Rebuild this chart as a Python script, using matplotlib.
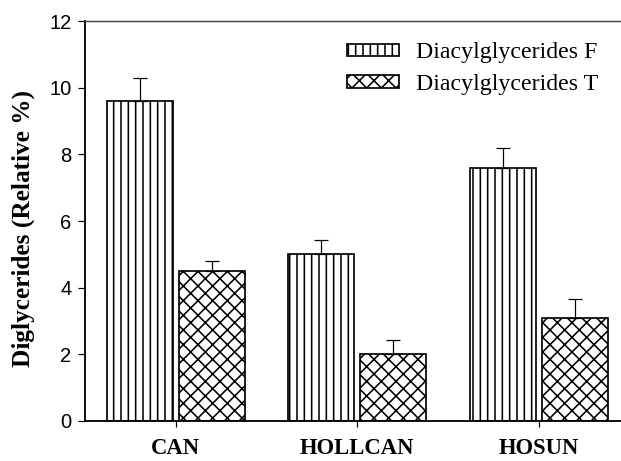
"""
Diglyceride content (relative %) for three oils, fresh vs. treated,
drawn as hatched black-and-white bars with upper error bars.
"""

import numpy as np
import matplotlib
matplotlib.use("Agg")
import matplotlib.pyplot as plt

# ── data ─────────────────────────────────────────────────────────────
oils    = ["CAN", "HOLLCAN", "HOSUN"]
dag_f   = [9.6, 5.0, 7.6]
dag_f_e = [0.7, 0.44, 0.6]
dag_t   = [4.5, 2.0, 3.1]
dag_t_e = [0.3, 0.43, 0.55]
yticks  = [0, 2, 4, 6, 8, 10, 12]

DPI = 88
W, H = 621, 461

plt.rcParams["hatch.linewidth"] = 1.3
plt.rcParams["hatch.color"] = "black"

fig = plt.figure(figsize=(W / DPI, H / DPI), dpi=DPI)
ax = fig.add_axes([85 / W, 40 / H, 544.5 / W, 400 / H])

x = np.arange(len(oils))
bw = 0.364
off = 0.198
err_kw = dict(ecolor="black", elinewidth=1.0, capsize=5.5, capthick=1.0)

ax.bar(x - off, dag_f, bw, yerr=[np.zeros(3), dag_f_e], error_kw=err_kw,
       facecolor="white", edgecolor="black", linewidth=1.4, hatch="||",
       label="Diacylglycerides F", zorder=2)
ax.bar(x + off, dag_t, bw, yerr=[np.zeros(3), dag_t_e], error_kw=err_kw,
       facecolor="white", edgecolor="black", linewidth=1.4, hatch="xx",
       label="Diacylglycerides T", zorder=2)

# ── axes styling ─────────────────────────────────────────────────────
ax.set_xlim(-0.5, 2.5)
ax.set_ylim(0, 12)
ax.set_yticks(yticks)
ax.set_yticklabels([str(v) for v in yticks], family="Liberation Sans", fontsize=16.5)
ax.set_xticks(x)
ax.set_xticklabels(oils, family="Liberation Serif", fontweight="bold", fontsize=18.5)
ax.tick_params(axis="y", direction="out", length=6, width=1.0, pad=5)
ax.tick_params(axis="x", direction="out", length=5, width=1.0, pad=9)

for side in ("left", "bottom"):
    ax.spines[side].set_linewidth(1.5)
ax.spines["top"].set_linewidth(1.2)
ax.spines["top"].set_color("#444444")
ax.spines["right"].set_visible(False)

ax.set_ylabel("Diglycerides (Relative %)", family="Liberation Serif",
              fontweight="bold", fontsize=20.7)
ax.yaxis.set_label_coords(-0.092, 0.482)

leg = ax.legend(loc="upper left", bbox_to_anchor=(0.481, 0.947), frameon=False,
                prop={"family": "Liberation Serif", "size": 19.5},
                handlelength=2.18, handleheight=0.42, handletextpad=0.71,
                labelspacing=0.45, borderpad=0, borderaxespad=0)

fig.savefig("out.png", dpi=DPI)
